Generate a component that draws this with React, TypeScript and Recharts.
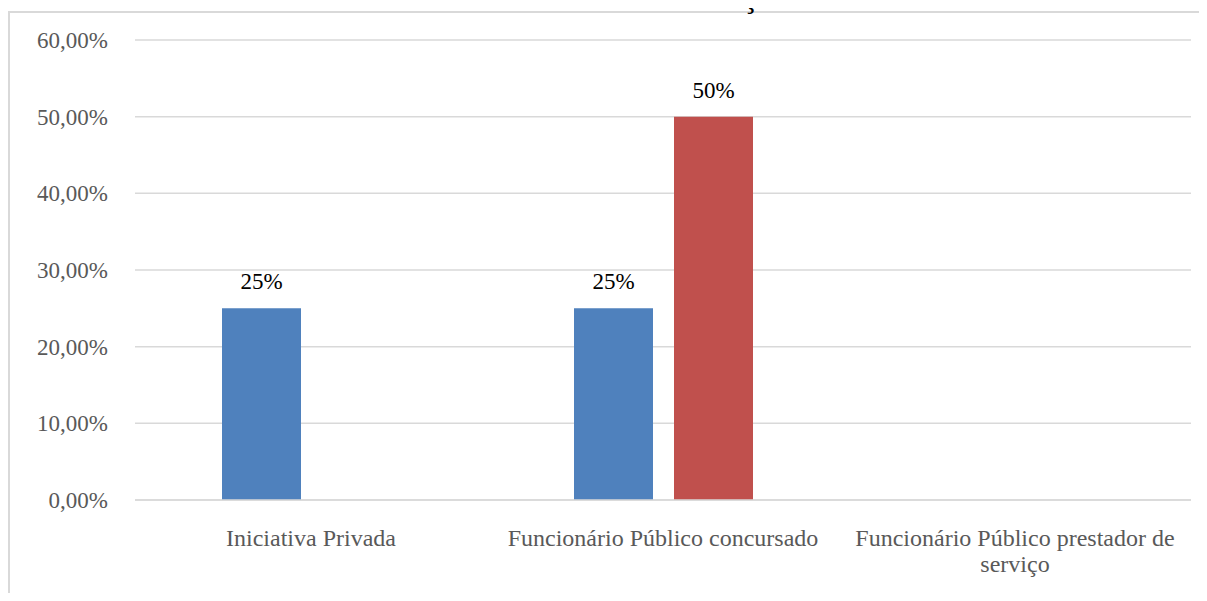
import React from 'react';
import { BarChart, Bar, XAxis, YAxis, CartesianGrid, LabelList } from 'recharts';

const categories = [
  'Iniciativa Privada',
  'Funcionário Público concursado',
  'Funcionário Público prestador de serviço',
];
const serie1: (number | null)[] = [0.25, 0.25, null];
const serie2: (number | null)[] = [null, 0.5, null];
const yTicks = [0, 0.1, 0.2, 0.3, 0.4, 0.5, 0.6];
const title = 'Gráfico 6 – Área de atuação';

const data = categories.map((c, i) => ({ name: c, s1: serie1[i], s2: serie2[i] }));

const FONT = '"Liberation Serif", "Times New Roman", serif';
const FS = 23;
const XFS = 24;

const fmtY = (v: number) => (v * 100).toFixed(2).replace('.', ',') + '%';

let ctx: CanvasRenderingContext2D | null = null;
const measure = (s: string) => {
  if (!ctx) {
    const c = document.createElement('canvas');
    ctx = c.getContext('2d');
  }
  if (!ctx) return s.length * XFS * 0.45;
  ctx.font = `${XFS}px "Liberation Serif"`;
  return ctx.measureText(s).width;
};

const wrapText = (s: string, maxW: number) => {
  const words = s.split(' ');
  const lines: string[] = [];
  let cur = '';
  words.forEach((w) => {
    const t = cur ? cur + ' ' + w : w;
    if (cur && measure(t) > maxW) {
      lines.push(cur);
      cur = w;
    } else {
      cur = t;
    }
  });
  if (cur) lines.push(cur);
  return lines;
};

const XTick = (props: any) => {
  const { x, y, payload } = props;
  const lines = wrapText(String(payload.value), 345);
  return (
    <text
      x={x}
      y={y}
      textAnchor="middle"
      fill="#595959"
      style={{ fontSize: XFS, fontFamily: FONT }}
    >
      {lines.map((l, i) => (
        <tspan key={i} x={x} dy={i === 0 ? 16 : 26}>
          {l}
        </tspan>
      ))}
    </text>
  );
};

const BarLabel = (props: any) => {
  const { x, y, width, value } = props;
  if (value === null || value === undefined) return null;
  return (
    <text
      x={Number(x) + Number(width) / 2}
      y={Number(y) - 19}
      textAnchor="middle"
      fill="#000"
      style={{ fontSize: FS, fontFamily: FONT }}
    >
      {`${Math.round(Number(value) * 100)}%`}
    </text>
  );
};

export default function App() {
  return (
    <div style={{ position: 'relative', width: 1191, height: 585, fontFamily: FONT }}>
      <style>{`html, body { overflow: hidden !important; scrollbar-width: none; } ::-webkit-scrollbar { display: none; width: 0; height: 0; }`}</style>
      <div
        style={{
          position: 'absolute',
          left: 0,
          top: 3,
          width: 1199,
          height: 582,
          borderLeft: '2px solid #D9D9D9',
          borderTop: '2px solid #D9D9D9',
          boxSizing: 'border-box',
        }}
      />
      <svg
        width={1199}
        height={50}
        style={{ position: 'absolute', left: 0, top: -40, overflow: 'visible' }}
      >
        <text
          x={600.5}
          y={39}
          textAnchor="middle"
          fill="#000"
          style={{ fontSize: 31.7, fontFamily: FONT }}
        >
          {title}
        </text>
      </svg>
      <div style={{ position: 'absolute', left: 0, top: 0 }}>
        <BarChart
          width={1191}
          height={585}
          data={data}
          margin={{ top: 32, right: 8, bottom: 0, left: 0 }}
          barSize={79}
          barGap={21}
          style={{ fontFamily: FONT }}
        >
          <CartesianGrid vertical={false} stroke="#D9D9D9" strokeWidth={1.5} />
          <XAxis
            dataKey="name"
            height={93}
            axisLine={{ stroke: '#D9D9D9', strokeWidth: 1.5 }}
            tickLine={false}
            tickSize={6}
            tickMargin={24}
            interval={0}
            tick={<XTick />}
          />
          <YAxis
            width={127}
            domain={[0, 0.6]}
            ticks={yTicks}
            tickFormatter={fmtY}
            axisLine={false}
            tickLine={false}
            tickSize={6}
            tickMargin={21}
            tick={{ fill: '#595959', fontSize: FS, fontFamily: FONT }}
          />
          <Bar dataKey="s1" name="Série 1" fill="#4F81BD" isAnimationActive={false}>
            <LabelList dataKey="s1" content={<BarLabel />} />
          </Bar>
          <Bar dataKey="s2" name="Série 2" fill="#C0504D" isAnimationActive={false}>
            <LabelList dataKey="s2" content={<BarLabel />} />
          </Bar>
        </BarChart>
      </div>
    </div>
  );
}
